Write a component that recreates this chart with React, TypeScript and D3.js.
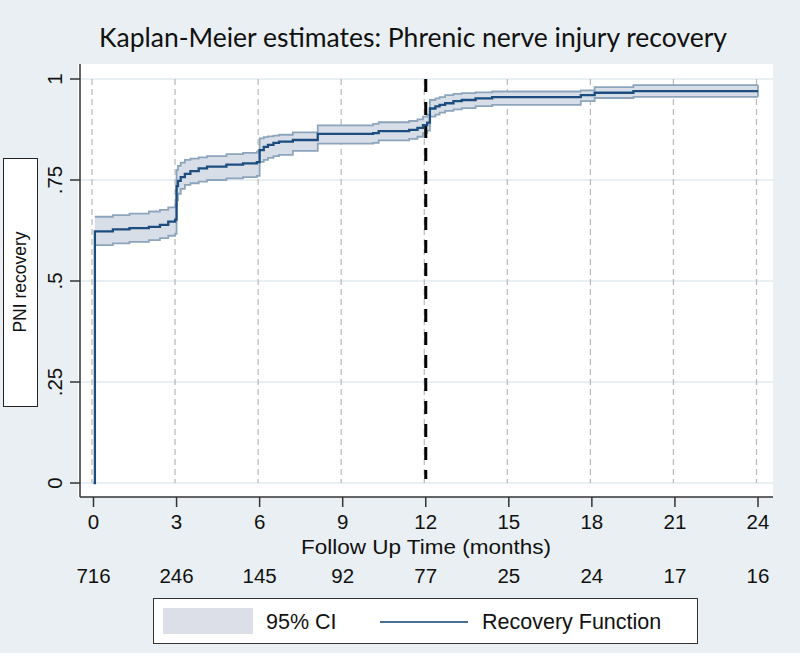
import React from "react";
import * as d3 from "d3";

const title = "Kaplan-Meier estimates: Phrenic nerve injury recovery";
const xTicks = [0, 3, 6, 9, 12, 15, 18, 21, 24];
const yTicks = [0, 0.25, 0.5, 0.75, 1];
const yTickLabels = ["0", ".25", ".5", ".75", "1"];
const atRisk = [716, 246, 145, 92, 77, 25, 24, 17, 16];
const markerMonth = 12;

const kmTime = [0, 0.05, 0.7, 1.3, 2.0, 2.4, 2.7, 2.95, 3.0, 3.05, 3.15, 3.3, 3.5, 3.8, 4.1, 4.8, 5.4, 5.9, 6.0, 6.15, 6.3, 6.5, 6.7, 7.2, 8.1, 10.1, 10.3, 11.4, 11.7, 11.9, 12.05, 12.15, 12.35, 12.5, 12.7, 13.0, 13.3, 13.8, 14.4, 17.6, 18.1, 19.5, 24];
const kmSurv = [0, 0.623, 0.628, 0.631, 0.634, 0.639, 0.647, 0.652, 0.735, 0.748, 0.757, 0.765, 0.772, 0.779, 0.783, 0.788, 0.791, 0.794, 0.824, 0.832, 0.837, 0.842, 0.845, 0.849, 0.864, 0.866, 0.871, 0.874, 0.879, 0.886, 0.892, 0.927, 0.932, 0.936, 0.94, 0.945, 0.948, 0.952, 0.955, 0.96, 0.966, 0.97, 0.97];
// CI starts at the second time point
const ciUpper = [0.659, 0.663, 0.667, 0.672, 0.676, 0.682, 0.688, 0.775, 0.785, 0.793, 0.8, 0.803, 0.806, 0.809, 0.814, 0.817, 0.82, 0.853, 0.856, 0.858, 0.86, 0.862, 0.868, 0.885, 0.889, 0.893, 0.896, 0.9, 0.907, 0.912, 0.948, 0.952, 0.955, 0.96, 0.963, 0.965, 0.967, 0.969, 0.972, 0.98, 0.985, 0.985];
const ciLower = [0.589, 0.593, 0.597, 0.601, 0.606, 0.612, 0.617, 0.7, 0.716, 0.728, 0.738, 0.742, 0.746, 0.75, 0.754, 0.757, 0.76, 0.795, 0.8, 0.805, 0.809, 0.812, 0.822, 0.84, 0.842, 0.848, 0.852, 0.857, 0.866, 0.872, 0.907, 0.912, 0.917, 0.921, 0.925, 0.928, 0.933, 0.936, 0.945, 0.953, 0.956, 0.956];

const W = 800;
const H = 653;
const plot = { left: 80, right: 773, top: 64, bottom: 497 };

export default function App() {
  const x = d3.scaleLinear().domain([0, 24]).range([93.5, 758]);
  const y = d3.scaleLinear().domain([0, 1]).range([483, 79]);

  const kmData = kmTime.map((t, i) => ({ t, v: kmSurv[i] }));
  const ciData = kmTime.slice(1).map((t, i) => ({ t, lo: ciLower[i], hi: ciUpper[i] }));

  const area = d3
    .area<{ t: number; lo: number; hi: number }>()
    .x((d) => x(d.t))
    .y0((d) => y(d.lo))
    .y1((d) => y(d.hi))
    .curve(d3.curveStepAfter);
  const upLine = d3
    .line<{ t: number; lo: number; hi: number }>()
    .x((d) => x(d.t))
    .y((d) => y(d.hi))
    .curve(d3.curveStepAfter);
  const loLine = d3
    .line<{ t: number; lo: number; hi: number }>()
    .x((d) => x(d.t))
    .y((d) => y(d.lo))
    .curve(d3.curveStepAfter);
  const kmLine = d3
    .line<{ t: number; v: number }>()
    .x((d) => x(d.t))
    .y((d) => y(d.v))
    .curve(d3.curveStepAfter);

  const sans = "'Liberation Sans', Arial, Helvetica, sans-serif";
  const last = ciData[ciData.length - 1];

  return (
    <svg width={W} height={H} style={{ position: "absolute", left: 0, top: 0 }} fontFamily={sans}>
      <rect x={0} y={0} width={W} height={H} fill="#e9eff2" />
      <text x={413} y={47} textAnchor="middle" fontFamily="Lato, 'Open Sans', sans-serif" fontSize={26.5} textLength={628} lengthAdjust="spacingAndGlyphs" fill="#111">
        {title}
      </text>

      {/* plot region */}
      <rect x={plot.left - 2} y={plot.top} width={plot.right - plot.left + 2} height={plot.bottom - plot.top} fill="#ffffff" />

      {/* horizontal grid */}
      {yTicks.map((v) => (
        <line key={"g" + v} x1={plot.left} x2={plot.right} y1={y(v)} y2={y(v)} stroke="#e2ebf0" strokeWidth={1.5} />
      ))}
      {/* vertical dashed lines */}
      {xTicks.map((t) => (
        <line key={"v" + t} x1={x(t) - 1.5} x2={x(t) - 1.5} y1={y(1)} y2={y(0)} stroke="#b8b8b8" strokeWidth={1.2} strokeDasharray="6,4" />
      ))}

      {/* CI band */}
      <path d={area(ciData) || ""} fill="#d7dee8" />
      <path d={upLine(ciData) || ""} fill="none" stroke="#8ca5bd" strokeWidth={1.8} />
      <path d={loLine(ciData) || ""} fill="none" stroke="#8ca5bd" strokeWidth={1.8} />
      <line x1={x(last.t)} x2={x(last.t)} y1={y(last.lo)} y2={y(last.hi)} stroke="#8ca5bd" strokeWidth={1.8} />

      {/* marker at 12 months */}
      <line x1={x(markerMonth)} x2={x(markerMonth)} y1={y(1)} y2={y(0) - 4} stroke="#000" strokeWidth={3} strokeDasharray="13,10" />

      {/* KM line */}
      <path d={kmLine(kmData) || ""} fill="none" stroke="#1c4d7e" strokeWidth={2.3} />

      {/* axes */}
      <line x1={plot.left} x2={plot.left} y1={plot.top} y2={plot.bottom} stroke="#333" strokeWidth={1.5} />
      <line x1={plot.left} x2={plot.right} y1={plot.bottom} y2={plot.bottom} stroke="#333" strokeWidth={1.5} />

      {yTicks.map((v, i) => (
        <g key={"yt" + v}>
          <line x1={70} x2={plot.left} y1={y(v)} y2={y(v)} stroke="#333" strokeWidth={1.5} />
          <text transform={`translate(62,${y(v)}) rotate(-90)`} textAnchor="middle" fontSize={20.5} fill="#111">
            {yTickLabels[i]}
          </text>
        </g>
      ))}

      {xTicks.map((t, i) => (
        <g key={"xt" + t}>
          <line x1={x(t)} x2={x(t)} y1={plot.bottom} y2={plot.bottom + 10} stroke="#333" strokeWidth={1.5} />
          <text x={x(t)} y={529} textAnchor="middle" fontSize={20.5} fill="#111">
            {t}
          </text>
          <text x={x(t)} y={583} textAnchor="middle" fontSize={20.5} fill="#111">
            {atRisk[i]}
          </text>
        </g>
      ))}

      <text x={426} y={554} textAnchor="middle" fontSize={20.5} textLength={250} lengthAdjust="spacingAndGlyphs" fill="#111">
        Follow Up Time (months)
      </text>

      {/* y label box */}
      <rect x={3.5} y={158.5} width={34} height={248} fill="#ffffff" stroke="#222" strokeWidth={1} />
      <text transform="translate(26,282) rotate(-90)" textAnchor="middle" fontSize={17.5} fill="#111">
        PNI recovery
      </text>

      {/* legend */}
      <rect x={153.5} y={598.5} width={544} height={45} fill="#ffffff" stroke="#333" strokeWidth={1} />
      <rect x={163} y={608} width={90} height={26} fill="#dcdfe8" />
      <text x={266} y={629} fontSize={21.5} fill="#111">95% CI</text>
      <line x1={380} x2={468} y1={622} y2={622} stroke="#4a6f96" strokeWidth={2} />
      <text x={482} y={629} fontSize={21.5} fill="#111">Recovery Function</text>
    </svg>
  );
}
